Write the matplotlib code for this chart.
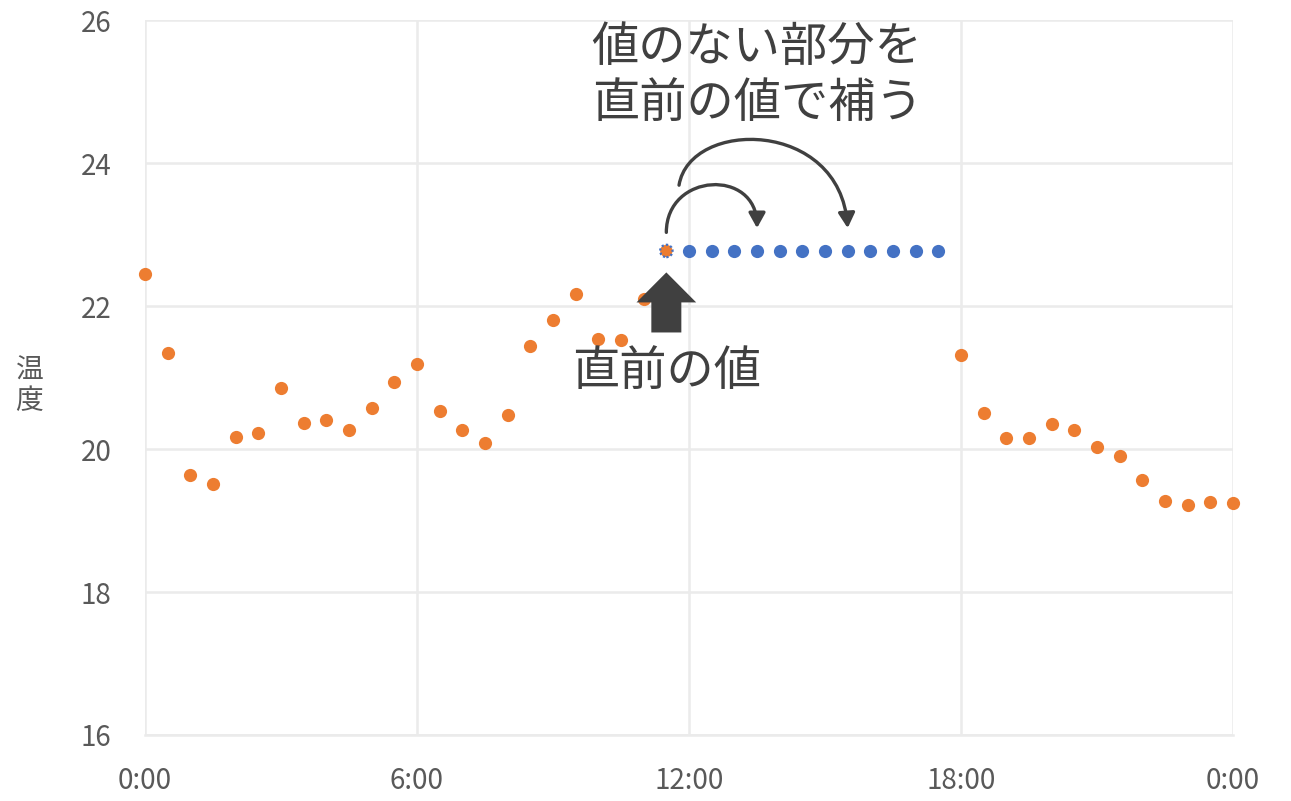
import matplotlib
matplotlib.use('Agg')
import matplotlib.pyplot as plt
from matplotlib.patches import FancyArrowPatch
from matplotlib.path import Path
import numpy as np

plt.rcParams['font.family'] = ['Noto Sans CJK JP', 'DejaVu Sans']

# -----------------------------
# data (30 minute steps, hours)
# -----------------------------
hours_before = [0, 0.5, 1, 1.5, 2, 2.5, 3, 3.5, 4, 4.5, 5, 5.5, 6, 6.5, 7, 7.5,
                8, 8.5, 9, 9.5, 10, 10.5, 11, 11.5]
temp_before = [22.45, 21.34, 19.64, 19.51, 20.17, 20.22, 20.85, 20.36, 20.41, 20.27,
               20.57, 20.94, 21.19, 20.53, 20.27, 20.08, 20.48, 21.44, 21.80, 22.17,
               21.54, 21.52, 22.10, 22.77]

hours_filled = [12, 12.5, 13, 13.5, 14, 14.5, 15, 15.5, 16, 16.5, 17, 17.5]
temp_filled = [22.77] * len(hours_filled)  # carried forward from 11:30

hours_after = [18, 18.5, 19, 19.5, 20, 20.5, 21, 21.5, 22, 22.5, 23, 23.5, 24]
temp_after = [21.31, 20.50, 20.15, 20.15, 20.35, 20.27, 20.03, 19.90, 19.57, 19.27,
              19.22, 19.26, 19.25]

x_ticks = [0, 6, 12, 18, 24]
x_labels = ['0:00', '6:00', '12:00', '18:00', '0:00']
y_ticks = [16, 18, 20, 22, 24, 26]

orange = '#ED7D31'
blue = '#4472C4'
dark = '#404040'
grid_col = '#EBEBEB'

# -----------------------------
# figure
# -----------------------------
fig = plt.figure(figsize=(12.91, 8.01), dpi=100)
ax = fig.add_axes([0.1123, 0.0824, 0.8428, 0.8926])

ax.plot(hours_before[:-1], temp_before[:-1], 'o', color=orange, ms=9.5, mec='none', clip_on=False)
ax.plot(hours_after, temp_after, 'o', color=orange, ms=9.5, mec='none', clip_on=False)
ax.plot(hours_filled, temp_filled, 'o', color=blue, ms=9.5, mec='none', clip_on=False)
# the last known value, highlighted
ax.scatter(hours_before[-1:], temp_before[-1:], s=80, color=orange, edgecolors=blue,
           linewidths=1.6, linestyles=(0, (1, 1)), zorder=3, clip_on=False)

ax.set_xlim(0, 24)
ax.set_ylim(16, 26)
ax.set_xticks(x_ticks)
ax.set_xticklabels(x_labels)
ax.set_yticks(y_ticks)
ax.tick_params(length=0, labelsize=20, labelcolor='#595959')
ax.tick_params(axis='x', pad=22)
ax.tick_params(axis='y', pad=24)
ax.grid(True, color=grid_col, linewidth=1.8)
ax.set_axisbelow(True)
for s in ['top', 'right', 'left']:
    ax.spines[s].set_visible(False)
ax.spines['bottom'].set_color(grid_col)
ax.spines['bottom'].set_linewidth(1.8)

ax.text(-2.55, 20.88, '温\n度', fontsize=20, color='#595959', ha='center', va='center',
        linespacing=1.0)

# -----------------------------
# annotations
# -----------------------------
last_x, last_y = hours_before[-1], temp_before[-1]

ax.text(13.5, 25.22, '値のない部分を\n直前の値で補う', fontsize=34, color=dark,
        ha='center', va='center', linespacing=1.2)
ax.text(last_x, 21.08, '直前の値', fontsize=34, color=dark, ha='center', va='center')

# block arrow pointing at the last known value
ax.annotate('', xy=(last_x, 22.47), xytext=(last_x, 21.63),
            arrowprops=dict(arrowstyle='simple,head_length=2.16,head_width=4.3,tail_width=2.16',
                            mutation_scale=10, color=dark, shrinkA=0, shrinkB=0, lw=0))

# curved arrows (cubic curves in data units)
cubic = [Path.MOVETO, Path.CURVE4, Path.CURVE4, Path.CURVE4]
small_arc = Path([(last_x, 23.03), (last_x, 23.87), (13.5, 23.93), (13.5, 23.09)], cubic)
big_arc = Path([(11.78, 23.69), (12.02, 24.62), (15.33, 24.62), (15.5, 23.09)], cubic)
for arc in [small_arc, big_arc]:
    ax.add_patch(FancyArrowPatch(path=arc, arrowstyle='-|>,head_length=0.45,head_width=0.25',
                                 mutation_scale=20, color=dark, lw=2.4))

fig.savefig('out.png', dpi=100)
